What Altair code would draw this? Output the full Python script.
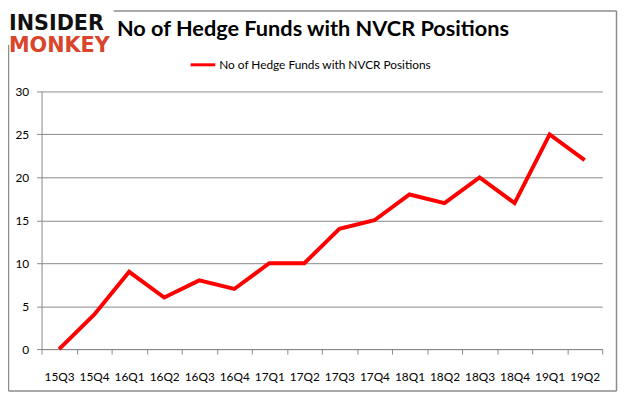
import altair as alt
import pandas as pd

quarters = ["15Q3", "15Q4", "16Q1", "16Q2", "16Q3", "16Q4", "17Q1", "17Q2",
            "17Q3", "17Q4", "18Q1", "18Q2", "18Q3", "18Q4", "19Q1", "19Q2"]
funds = [0, 4, 9, 6, 8, 7, 10, 10, 14, 15, 18, 17, 20, 17, 25, 22]
y_ticks = [0, 5, 10, 15, 20, 25, 30]
series_name = "No of Hedge Funds with NVCR Positions"
title_text = "No of Hedge Funds with NVCR Positions"

df = pd.DataFrame({"quarter": quarters, "funds": funds})

FONT = "Lato"
GRID = "#868686"
W, H = 568, 261

base = alt.Chart(df)

line = base.mark_line(color="#ff0000", strokeWidth=4, strokeJoin="miter").encode(
    x=alt.X("quarter:N", sort=quarters, bandPosition=0.5,
            scale=alt.Scale(type="band", paddingInner=0, paddingOuter=0),
            axis=alt.Axis(title=None, tickBand="extent", grid=False, labelAngle=0,
                          labelFont=FONT, labelFontSize=12, labelColor="#000",
                          labelPadding=18, tickSize=5, tickColor=GRID,
                          domainColor=GRID)),
    y=alt.Y("funds:Q", scale=alt.Scale(domain=[0, 30], nice=False),
            axis=alt.Axis(title=None, values=y_ticks, grid=True, gridColor=GRID,
                          labelFont=FONT, labelFontSize=12, labelColor="#000",
                          labelPadding=8, tickSize=5, tickColor=GRID,
                          domainColor=GRID)),
)

one = alt.Data(values=[{}])

title = alt.Chart(one).mark_text(font=FONT, fontSize=22, fontWeight="bold",
                                 color="#000", align="center", baseline="middle").encode(
    x=alt.value(275), y=alt.value(-63), text=alt.value(title_text))

leg_line = alt.Chart(one).mark_rule(color="#ff0000", strokeWidth=3).encode(
    x=alt.value(151), x2=alt.value(176), y=alt.value(-27))
leg_text = alt.Chart(one).mark_text(font=FONT, fontSize=12, color="#000",
                                    align="left", baseline="middle").encode(
    x=alt.value(180), y=alt.value(-27), text=alt.value(series_name))

logo1 = alt.Chart(one).mark_text(font="DejaVu Sans", fontSize=21, fontWeight="bold",
                                 color="#111", align="left", baseline="alphabetic").encode(
    x=alt.value(-33), y=alt.value(-62), text=alt.value("INSIDER"))
logo2 = alt.Chart(one).mark_text(font="DejaVu Sans", fontSize=21, fontWeight="bold",
                                 color="#d9452b", align="left", baseline="alphabetic").encode(
    x=alt.value(-33), y=alt.value(-40), text=alt.value("MONKEY"))

FRAME = "#8c8c8c"
frame_top = alt.Chart(one).mark_rule(color=FRAME, strokeWidth=1.5).encode(
    x=alt.value(73), x2=alt.value(582.5), y=alt.value(-81.5))
frame_right = alt.Chart(one).mark_rule(color=FRAME, strokeWidth=1.5).encode(
    x=alt.value(582.5), y=alt.value(-81.5), y2=alt.value(303.5))
frame_bottom = alt.Chart(one).mark_rule(color=FRAME, strokeWidth=1.5).encode(
    x=alt.value(-33.5), x2=alt.value(582.5), y=alt.value(303.5))
frame_left = alt.Chart(one).mark_rule(color=FRAME, strokeWidth=1.5).encode(
    x=alt.value(-33.5), y=alt.value(-47), y2=alt.value(303.5))

chart = alt.layer(frame_top, frame_right, frame_bottom, frame_left,
                  line, title, leg_line, leg_text, logo1, logo2).properties(
    width=W, height=H,
    autosize=alt.AutoSizeParams(type="none"),
    padding={"left": 34, "top": 82, "right": 16, "bottom": 46},
).configure_view(stroke=None)

chart.save("out.html", embed_options={"renderer": "svg", "actions": False})
